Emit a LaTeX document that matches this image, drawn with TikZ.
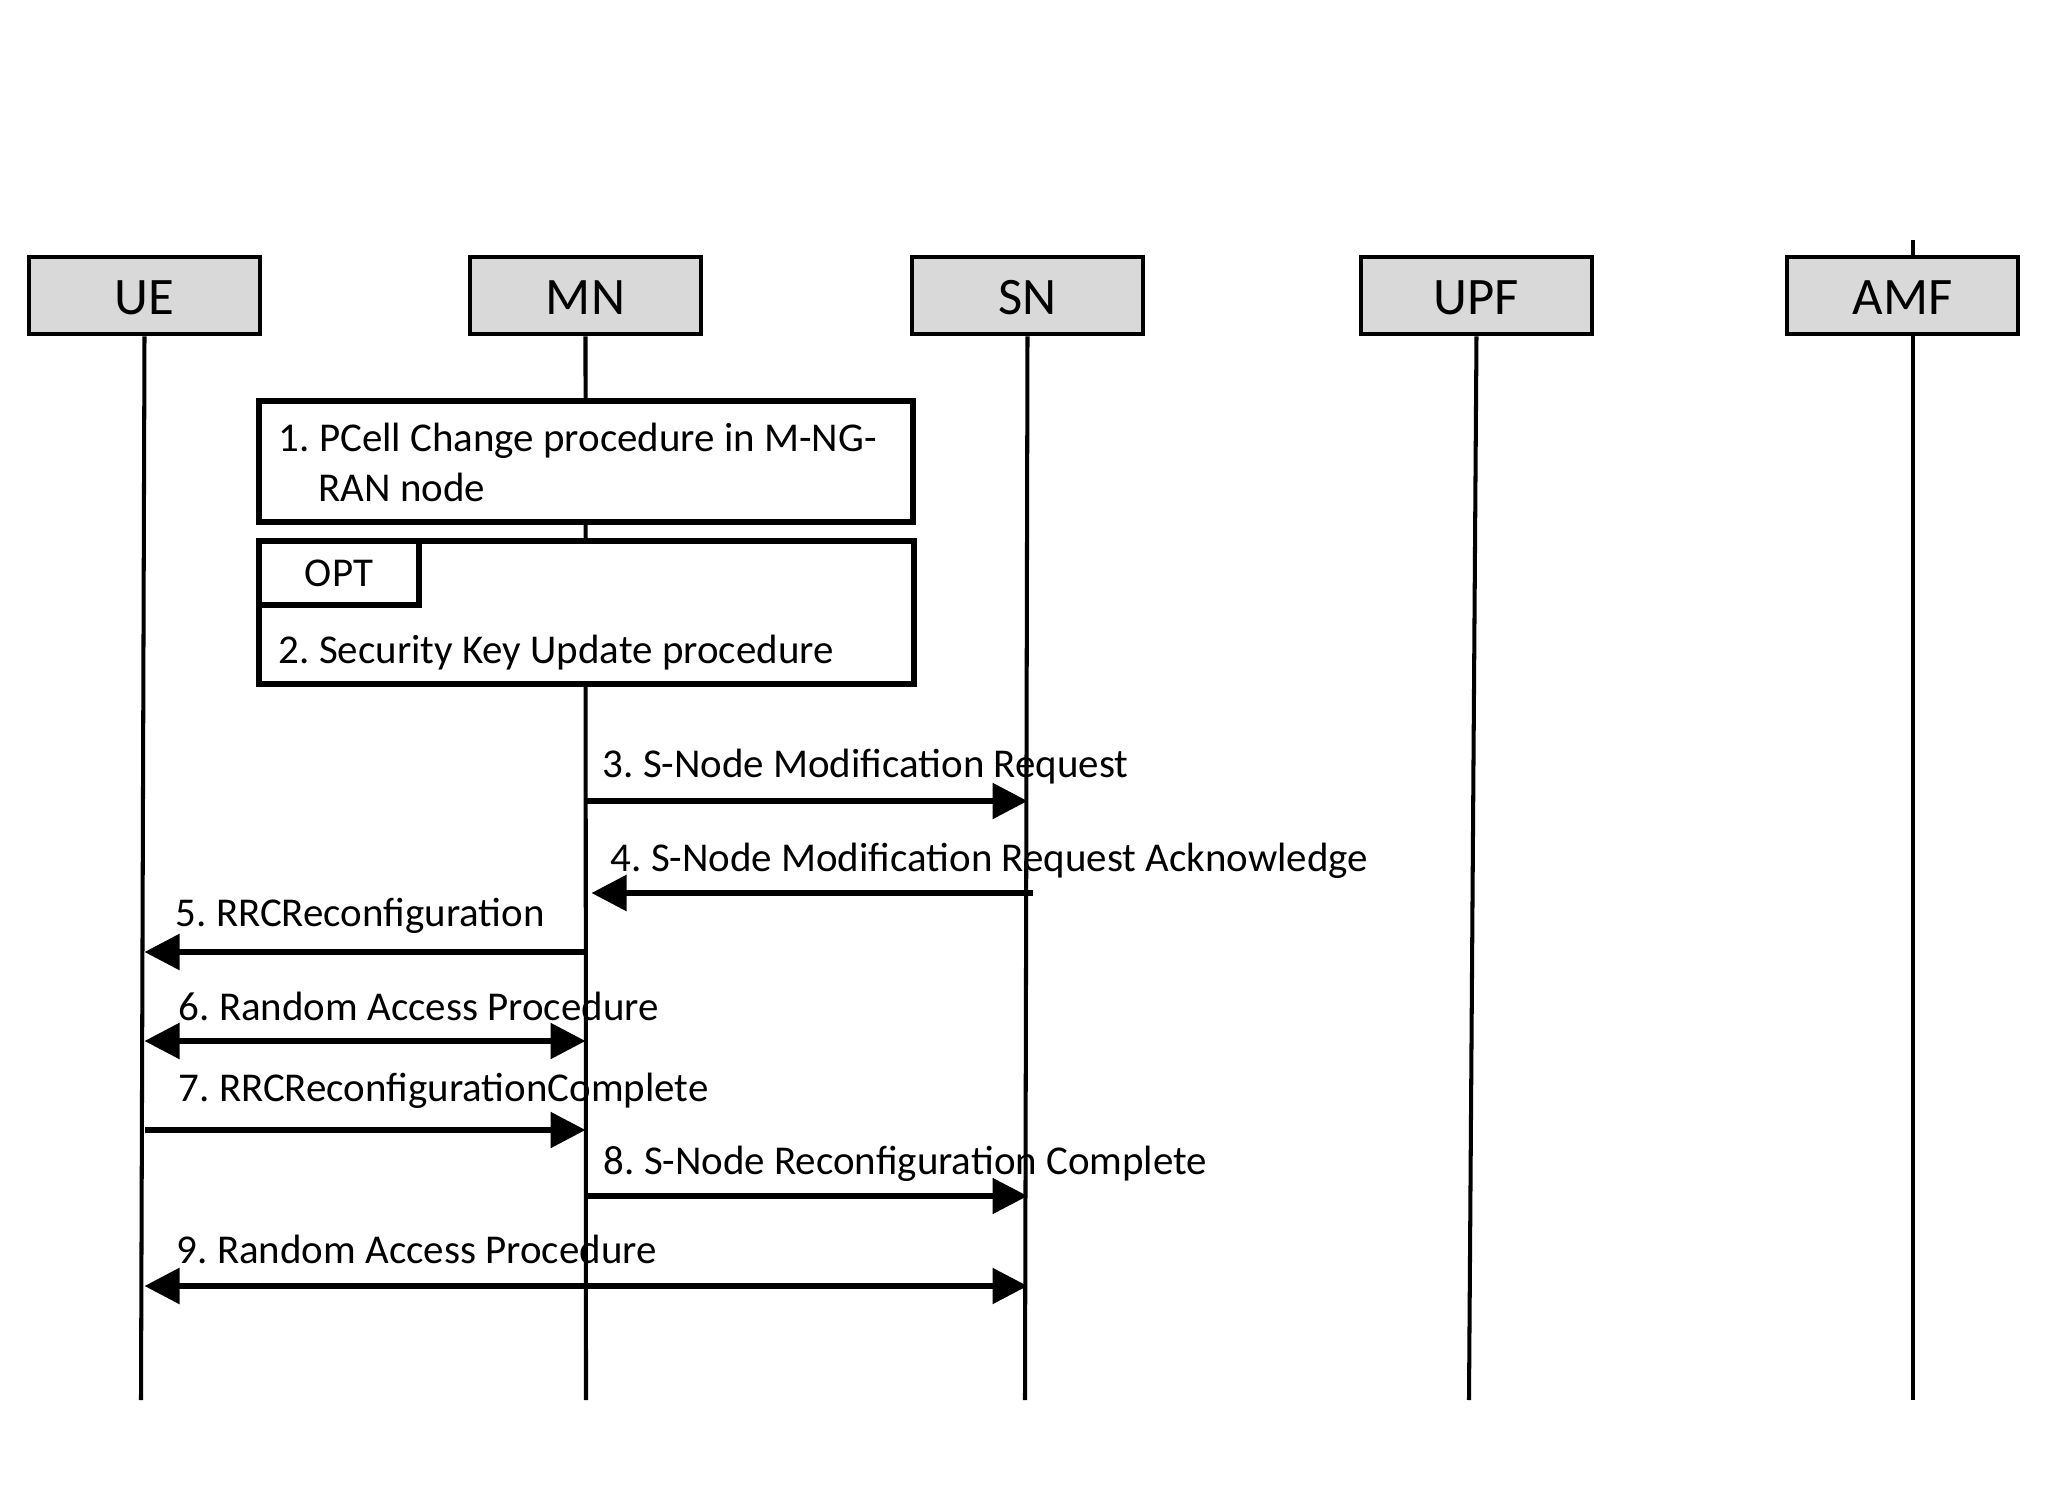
\documentclass[tikz,border=0pt]{standalone}
\usepackage{fontspec}
\setmainfont{Carlito}
\usepackage{xcolor}
\usetikzlibrary{arrows.meta,positioning,calc}
\frenchspacing

\definecolor{headgray}{HTML}{D9D9D9}
\tikzset{
  actor/.style={draw, line width=1.4pt, fill=headgray, minimum width=2.31cm, minimum height=0.77cm, inner sep=0pt, text height=0.39cm, text depth=0pt, font=\fontsize{15}{18}\selectfont},
  life/.style={line width=1.15pt},
  frame/.style={draw, line width=1.45pt, fill=white, inner sep=0pt},
  msg/.style={line width=1.6pt, -{Triangle[length=0.35cm,width=0.35cm]}},
  msgboth/.style={line width=1.6pt, {Triangle[length=0.35cm,width=0.35cm]}-{Triangle[length=0.35cm,width=0.35cm]}},
  lbl/.style={anchor=base west, inner sep=0pt, font=\fontsize{11.65}{14}\selectfont},
}

\begin{document}
\begin{tikzpicture}[x=1cm,y=-1cm]
\useasboundingbox (0,0) rectangle (20.48,15.04);
% entities
\node[actor] (ue) at (1.445,2.955) {UE};
\node[actor] (mn) at (5.855,2.955) {MN};
\node[actor] (sn) at (10.275,2.955) {SN};
\node[actor] (upf) at (14.765,2.955) {UPF};
\node[actor] (amf) at (19.025,2.955) {AMF};
% lifelines
\coordinate (ue-end) at (1.41,14.0);
\coordinate (mn-end) at (5.86,14.0);
\coordinate (sn-end) at (10.25,14.0);
\coordinate (upf-end) at (14.69,14.0);
\coordinate (amf-top) at (19.13,2.40);
\coordinate (amf-end) at (19.13,14.0);
\draw[life] (ue.south) -- (ue-end);
\draw[life] (mn.south) -- (mn-end);
\draw[life] (sn.south) -- (sn-end);
\draw[life] (upf.south) -- (upf-end);
\draw[life] (amf-top) -- (amf.north -| amf-top);
\draw[life] (amf.south -| amf-top) -- (amf-end);
% procedures at MN
\node[frame, minimum width=6.54cm, minimum height=1.21cm] (proc1) at (5.86,4.615) {};
\node[lbl, align=left] (proc1-txt) at (2.78,5.01) {1. PCell Change procedure in M-NG-\\\hspace*{0.40cm}RAN node};
\node[frame, minimum width=6.55cm, minimum height=1.43cm] (opt) at (5.865,6.125) {};
\node[frame, minimum width=1.60cm, minimum height=0.64cm, anchor=north west, font=\fontsize{11.65}{14}\selectfont] (opt-tag) at (opt.north west) {OPT};
\node[lbl] (proc2-txt) at (2.78,6.63) {2. Security Key Update procedure};
% messages
\draw[msg] (mn |- 0,8.01) -- (sn |- 0,8.01);
\node[lbl] (l3) at (6.02,7.77) {3. S-Node Modification Request};
\draw[msg] ($(sn |- 0,8.93)+(0.05,0)$) -- ($(mn |- 0,8.93)+(0.06,0)$);
\node[lbl] (l4) at (6.10,8.71) {4. S-Node Modification Request Acknowledge};
\draw[msg] (mn |- 0,9.52) -- (ue |- 0,9.52);
\node[lbl] (l5) at (1.75,9.26) {5. RRCReconfiguration};
\draw[msgboth] (ue |- 0,10.41) -- (mn |- 0,10.41);
\node[lbl] (l6) at (1.78,10.20) {6. Random Access Procedure};
\draw[msg] (ue |- 0,11.30) -- (mn |- 0,11.30);
\node[lbl] (l7) at (1.78,11.01) {7. RRCReconfigurationComplete};
\draw[msg] (mn |- 0,11.96) -- (sn |- 0,11.96);
\node[lbl] (l8) at (6.03,11.74) {8. S-Node Reconfiguration Complete};
\draw[msgboth] (ue |- 0,12.86) -- (sn |- 0,12.86);
\node[lbl] (l9) at (1.76,12.63) {9. Random Access Procedure};
\end{tikzpicture}
\end{document}
